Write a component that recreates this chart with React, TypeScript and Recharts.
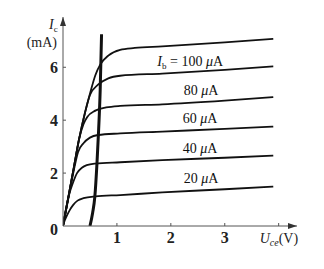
import React from "react";
import { LineChart, Line, XAxis, YAxis, ReferenceDot } from "recharts";

const xTicks = [1, 2, 3, 4];
const yTicks = [0, 2, 4, 6];
const xMax = 4.34;
const yMax = 7.9;

const curve100 = [
  { x: 0, y: 0 }, { x: 0.1, y: 1.1 }, { x: 0.2, y: 2.2 }, { x: 0.3, y: 3.3 },
  { x: 0.41, y: 4.3 }, { x: 0.5, y: 5.0 }, { x: 0.6, y: 5.7 }, { x: 0.69, y: 6.1 },
  { x: 0.84, y: 6.44 }, { x: 1.06, y: 6.66 }, { x: 1.33, y: 6.73 }, { x: 1.84, y: 6.79 },
  { x: 3.0, y: 6.94 }, { x: 3.9, y: 7.07 },
];
const curve80 = [
  { x: 0, y: 0 }, { x: 0.1, y: 1.1 }, { x: 0.2, y: 2.2 }, { x: 0.3, y: 3.3 },
  { x: 0.41, y: 4.3 }, { x: 0.5, y: 4.95 }, { x: 0.65, y: 5.34 }, { x: 0.84, y: 5.58 },
  { x: 1.06, y: 5.68 }, { x: 1.84, y: 5.76 }, { x: 3.0, y: 5.9 }, { x: 3.9, y: 6.03 },
];
const curve60 = [
  { x: 0, y: 0 }, { x: 0.1, y: 1.1 }, { x: 0.2, y: 2.2 }, { x: 0.3, y: 3.3 },
  { x: 0.38, y: 3.85 }, { x: 0.45, y: 4.12 }, { x: 0.6, y: 4.36 }, { x: 0.8, y: 4.48 },
  { x: 1.06, y: 4.54 }, { x: 1.84, y: 4.6 }, { x: 3.0, y: 4.74 }, { x: 3.9, y: 4.87 },
];
const curve40 = [
  { x: 0, y: 0 }, { x: 0.1, y: 1.05 }, { x: 0.2, y: 2.1 }, { x: 0.28, y: 2.8 },
  { x: 0.38, y: 3.13 }, { x: 0.5, y: 3.34 }, { x: 0.65, y: 3.44 }, { x: 1.06, y: 3.5 },
  { x: 1.84, y: 3.57 }, { x: 3.0, y: 3.67 }, { x: 3.9, y: 3.76 },
];
const curve20 = [
  { x: 0, y: 0 }, { x: 0.06, y: 0.7 }, { x: 0.12, y: 1.24 }, { x: 0.17, y: 1.55 },
  { x: 0.26, y: 2.0 }, { x: 0.35, y: 2.2 }, { x: 0.44, y: 2.3 }, { x: 0.6, y: 2.36 },
  { x: 1.06, y: 2.41 }, { x: 1.84, y: 2.49 }, { x: 3.0, y: 2.58 }, { x: 3.9, y: 2.66 },
];
const curve0 = [
  { x: 0, y: 0 }, { x: 0.03, y: 0.2 }, { x: 0.07, y: 0.38 }, { x: 0.13, y: 0.62 },
  { x: 0.19, y: 0.8 }, { x: 0.27, y: 0.96 }, { x: 0.38, y: 1.05 }, { x: 0.6, y: 1.12 },
  { x: 1.06, y: 1.17 }, { x: 1.84, y: 1.27 }, { x: 3.0, y: 1.39 }, { x: 3.9, y: 1.49 },
];
const boundary = [
  { x: 0.5, y: 0 }, { x: 0.55, y: 0.5 }, { x: 0.59, y: 1.1 }, { x: 0.63, y: 2.37 },
  { x: 0.66, y: 3.6 }, { x: 0.69, y: 5.15 }, { x: 0.715, y: 7.25 },
];

const curveLabels = ["100", "80", "60", "40", "20"];
const labelX = [1.75, 2.24, 2.22, 2.22, 2.24];
const labelY = [6.06, 4.96, 3.9, 2.77, 1.63];

const serif = "'Liberation Serif', 'DejaVu Serif', serif";
const axisColor = "#555";

const XTick = (props: any) => {
  const { x, y, payload } = props;
  return (
    <g>
      <line x1={x} x2={x} y1={y} y2={y - 3} stroke={axisColor} strokeWidth={1} />
      {payload.value === 4 ? (
        <text x={x - 19} y={y + 17} fontFamily={serif} fontSize={14} fill="#222">
          <tspan fontStyle="italic">U</tspan>
          <tspan fontSize={10} dy={3} fontStyle="italic">ce</tspan>
          <tspan dy={-3}>(V)</tspan>
        </text>
      ) : (
        <text x={x} y={y + 17} textAnchor="middle" fontFamily={serif} fontSize={16} fontWeight={600} fill="#222">
          {payload.value}
        </text>
      )}
    </g>
  );
};

const YTick = (props: any) => {
  const { x, y, payload } = props;
  return (
    <g>
      {payload.value !== 0 && (
        <line x1={x} x2={x + 3} y1={y} y2={y} stroke={axisColor} strokeWidth={1} />
      )}
      <text
        x={x - 5}
        y={y + (payload.value === 0 ? 9 : 6)}
        textAnchor="end"
        fontFamily={serif}
        fontSize={16}
        fontWeight={600}
        fill="#222"
      >
        {payload.value}
      </text>
    </g>
  );
};

const YAxisLabel = (props: any) => {
  const vb = props.viewBox || { x: 33, y: 17, width: 30 };
  const right = vb.x + vb.width;
  return (
    <g>
      <text x={right - 14} y={vb.y + 12} fontFamily={serif} fontSize={14} fill="#222">
        <tspan fontStyle="italic">I</tspan>
        <tspan fontSize={9} dy={3}>c</tspan>
      </text>
      <text x={right - 6} y={vb.y + 30} textAnchor="end" fontFamily={serif} fontSize={14} fill="#222">
        (mA)
      </text>
    </g>
  );
};

const ArrowRight = (props: any) => {
  const { cx, cy } = props;
  return <path d={`M${cx},${cy} L${cx - 9},${cy - 3} L${cx - 9},${cy + 3} Z`} fill="#333" />;
};
const ArrowUp = (props: any) => {
  const { cx, cy } = props;
  return <path d={`M${cx},${cy} L${cx - 3},${cy + 9} L${cx + 3},${cy + 9} Z`} fill="#333" />;
};

const makeLabel = (i: number) => (props: any) => {
  const { cx, cy } = props;
  return (
    <text x={cx} y={cy} fontFamily={serif} fontSize={14} fill="#111">
      {i === 0 && (
        <>
          <tspan fontStyle="italic">I</tspan>
          <tspan fontSize={9} dy={3}>b</tspan>
          <tspan dy={-3}>{" = "}</tspan>
        </>
      )}
      <tspan>{curveLabels[i] + " "}</tspan>
      <tspan fontStyle="italic">μ</tspan>
      <tspan>A</tspan>
    </text>
  );
};

const curves = [curve100, curve80, curve60, curve40, curve20, curve0];

export default function App() {
  return (
    <div style={{ position: "absolute", left: 0, top: 0, background: "#fff" }}>
      <LineChart
        width={324}
        height={269}
        margin={{ top: 17, right: 27, bottom: 13, left: 33 }}
      >
        <XAxis
          type="number"
          dataKey="x"
          domain={[0, xMax]}
          ticks={xTicks}
          allowDataOverflow
          stroke={axisColor}
          tickLine={false}
          tickSize={0}
          tickMargin={0}
          tick={<XTick />}
          height={30}
        />
        <YAxis
          type="number"
          dataKey="y"
          domain={[0, yMax]}
          ticks={yTicks}
          allowDataOverflow
          stroke={axisColor}
          tickLine={false}
          tickSize={0}
          tickMargin={0}
          tick={<YTick />}
          width={30}
          label={{ content: (p: any) => <YAxisLabel {...p} /> }}
        />
        {curves.map((c, i) => (
          <Line
            key={i}
            data={c}
            dataKey="y"
            type="monotone"
            stroke="#111"
            strokeWidth={1.8}
            dot={false}
            isAnimationActive={false}
          />
        ))}
        <Line
          data={boundary}
          dataKey="y"
          type="monotone"
          stroke="#111"
          strokeWidth={3}
          dot={false}
          isAnimationActive={false}
        />
        {curveLabels.map((_, i) => (
          <ReferenceDot
            key={"l" + i}
            x={labelX[i]}
            y={labelY[i]}
            ifOverflow="visible"
            shape={makeLabel(i)}
          />
        ))}
        <ReferenceDot x={xMax} y={0} ifOverflow="visible" shape={<ArrowRight />} />
        <ReferenceDot x={0} y={yMax} ifOverflow="visible" shape={<ArrowUp />} />
      </LineChart>
    </div>
  );
}
